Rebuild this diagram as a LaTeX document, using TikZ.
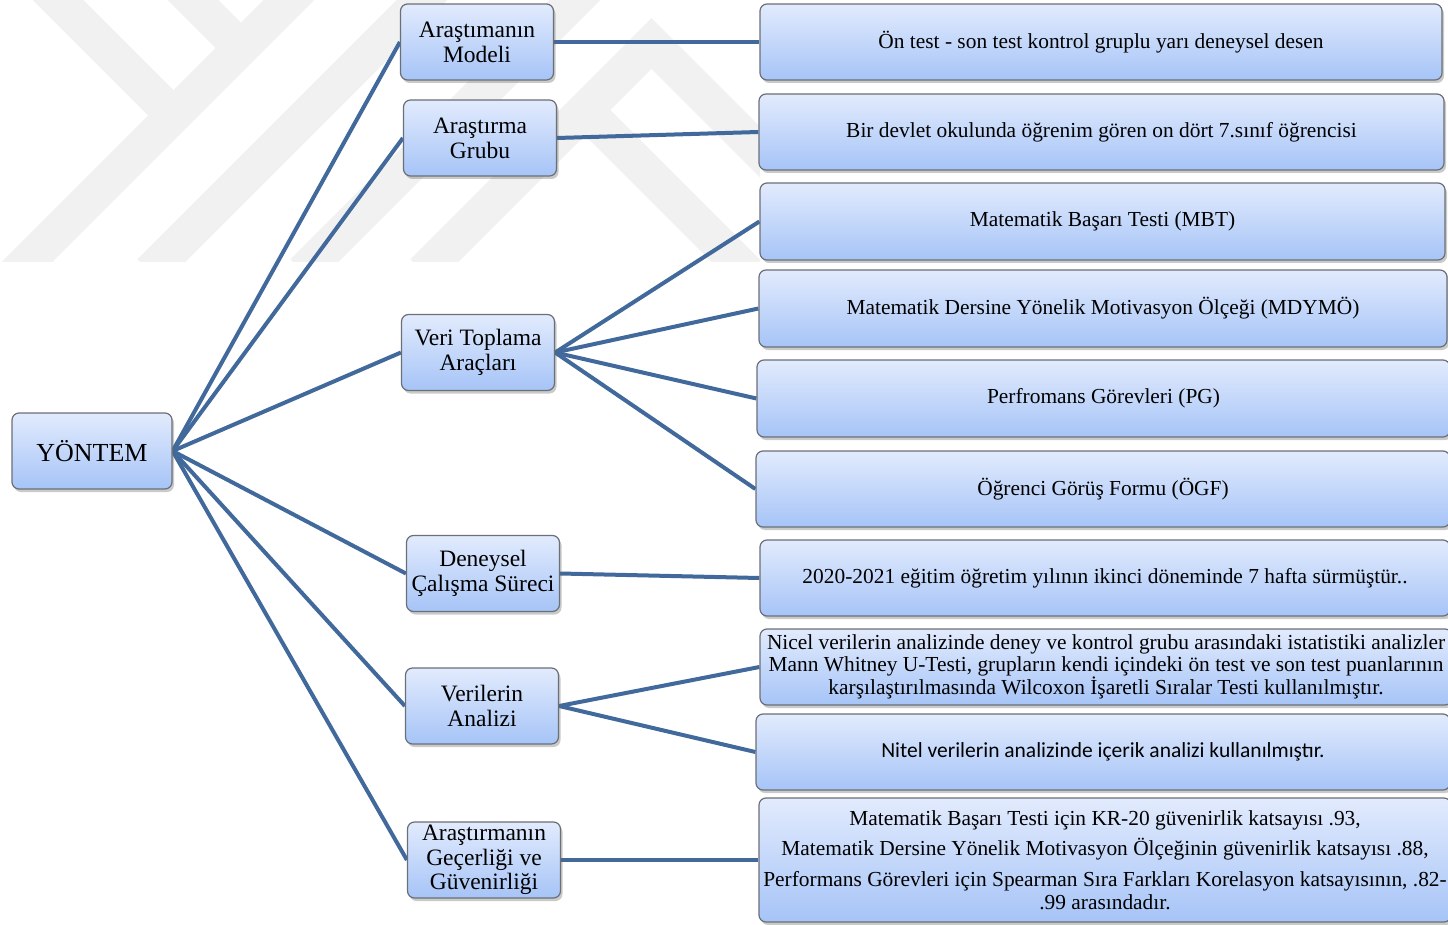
\documentclass[tikz,border=0pt]{standalone}
\usepackage{fontspec}
\setmainfont{Liberation Serif}
\newfontfamily\calib{Carlito}
\usetikzlibrary{shadows,backgrounds}
\definecolor{conn}{HTML}{41699B}
\definecolor{boxtop}{HTML}{E2EBFD}
\definecolor{boxbot}{HTML}{A6C4F7}
\definecolor{boxline}{HTML}{6B6F76}
\definecolor{wm}{HTML}{F1F1F1}
\tikzset{
  box/.style={draw=boxline, line width=1.2pt, rounded corners=7pt,
    top color=boxtop, bottom color=boxbot,
    drop shadow={shadow xshift=2pt, shadow yshift=-3pt, opacity=0.35, fill=black!60},
    align=center, inner sep=1pt},
  midbox/.style={box, minimum width=153pt, minimum height=76pt,
    font=\fontsize{23.5}{25}\selectfont},
  rootbox/.style={box, minimum width=160pt, minimum height=76pt,
    font=\fontsize{26}{28}\selectfont},
  rbox/.style={box, minimum height=76pt, font=\fontsize{21.4}{22}\selectfont},
  conline/.style={draw=conn, line width=4pt},
  wmline/.style={draw=wm, line width=36pt, line join=miter}
}
\begin{document}
\begin{tikzpicture}[x=1pt,y=-1pt]
\useasboundingbox (0,0) rectangle (1448,925);

% root
\node[rootbox] (Y) at (92,451) {YÖNTEM};

% middle column
\node[midbox] (m1) at (477,42) {Araştımanın\\Modeli};
\node[midbox] (m2) at (480,138) {Araştırma\\Grubu};
\node[midbox] (m3) at (478,352.5) {Veri Toplama\\Araçları};
\node[midbox] (m4) at (483,573.5) {Deneysel\\Çalışma Süreci};
\node[midbox] (m5) at (482,706) {Verilerin\\Analizi};
\node[midbox, font=\fontsize{23.5}{24.5}\selectfont] (m6) at (484,860) {Araştırmanın\\Geçerliği ve\\Güvenirliği};

% right column
\node[rbox, minimum width=682pt] (r1) at (1101,42) {Ön test - son test kontrol gruplu yarı deneysel desen};
\node[rbox, minimum width=685pt] (r2) at (1101.5,132) {Bir devlet okulunda öğrenim gören on dört 7.sınıf öğrencisi};
\node[rbox, minimum width=685pt, minimum height=77pt] (r3) at (1102.5,221.5) {Matematik Başarı Testi (MBT)};
\node[rbox, minimum width=688pt, minimum height=77pt] (r4) at (1103,308.5) {Matematik Dersine Yönelik Motivasyon Ölçeği (MDYMÖ)};
\node[rbox, minimum width=693pt, minimum height=77pt] (r5) at (1103.5,398.5) {Perfromans Görevleri (PG)};
\node[rbox, minimum width=694pt] (r6) at (1103,489) {Öğrenci Görüş Formu (ÖGF)};
\node[rbox, minimum width=690pt] (r7) at (1105,578) {2020-2021 eğitim öğretim yılının ikinci döneminde 7 hafta sürmüştür..};
\node[rbox, minimum width=692pt] (r8) at (1106,667) {Nicel verilerin analizinde deney ve kontrol grubu arasındaki istatistiki analizler\\Mann Whitney U-Testi, grupların kendi içindeki ön test ve son test puanlarının\\karşılaştırılmasında Wilcoxon İşaretli Sıralar Testi kullanılmıştır.};
\node[rbox, minimum width=694pt, font=\calib\fontsize{21.5}{22}\selectfont] (r9) at (1103,752) {Nitel verilerin analizinde içerik analizi kullanılmıştır.};
\node[rbox, minimum width=692pt, minimum height=124pt, font=\fontsize{21.4}{23}\selectfont] (r10) at (1105,860) {Matematik Başarı Testi için KR-20 güvenirlik katsayısı .93,\\[7.5pt]Matematik Dersine Yönelik Motivasyon Ölçeğinin güvenirlik katsayısı .88,\\[7.5pt]Performans Görevleri için Spearman Sıra Farkları Korelasyon katsayısının, .82-\\.99 arasındadır.};

\begin{scope}[on background layer]
  % faint watermark
  \begin{scope}
    \clip (0,0) rectangle (760,262);
    \draw[wmline] (38,-20) -- (174,116);
    \draw[wmline] (-10,299) -- (309,-20);
    \draw[wmline] (173,-20) -- (241,48);
    \draw[wmline] (150,272) -- (442,-20);
    \draw[wmline] (303,272) -- (595,-20);
    \draw[wmline] (423,272) -- (651.5,43.5) -- (881.5,273.5);
    \draw[wmline] (585,110) -- (785,310);
  \end{scope}
  % connectors
  \foreach \m in {m1,m2,m3,m4,m5,m6}
    \draw[conline] (Y.east) -- (\m.west);
  \draw[conline] (m1.east) -- (r1.west);
  \draw[conline] (m2.east) -- (r2.west);
  \foreach \r in {r3,r4,r5,r6}
    \draw[conline] (m3.east) -- (\r.west);
  \draw[conline] (m4.east) -- (r7.west);
  \draw[conline] (m5.east) -- (r8.west);
  \draw[conline] (m5.east) -- (r9.west);
  \draw[conline] (m6.east) -- (r10.west);
\end{scope}
\end{tikzpicture}
\end{document}
